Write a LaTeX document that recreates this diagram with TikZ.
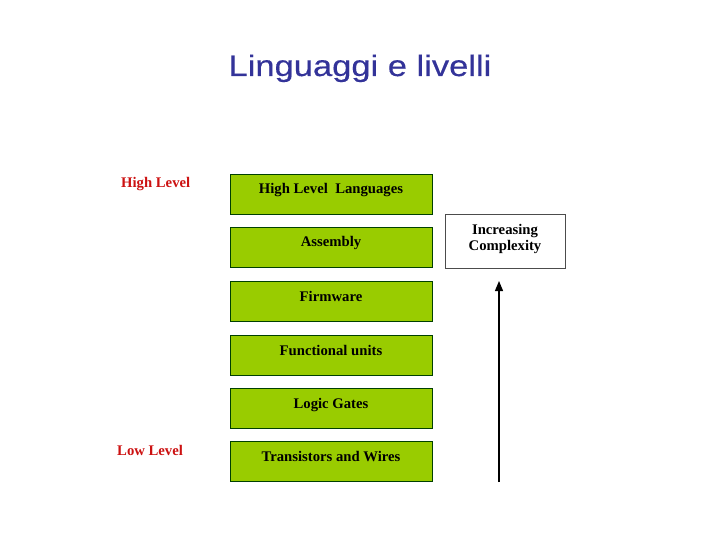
\documentclass[tikz,border=0pt]{standalone}
\usepackage{fontspec}
\setmainfont{Liberation Serif}
\newfontfamily\titlefont[FakeStretch=1.17,FakeBold=0.4]{Liberation Sans}
\usetikzlibrary{arrows.meta}
\definecolor{levelgreen}{HTML}{99CC00}
\definecolor{titleblue}{HTML}{333399}
\definecolor{levelred}{HTML}{CC1111}
\begin{document}
\begin{tikzpicture}[x=1pt,y=-1pt,
  levelbox/.style={draw=black!75!green, line width=1pt, fill=levelgreen, minimum width=202pt, minimum height=40pt, inner sep=0pt, anchor=north west},
  boxtext/.style={font=\bfseries\fontsize{14.7}{16}\selectfont, anchor=base},
  sidelabel/.style={font=\bfseries\fontsize{14.7}{16}\selectfont, text=levelred, anchor=base west, inner sep=0pt}]
\useasboundingbox (0,0) rectangle (720,540);
\node[font=\titlefont\fontsize{29.5}{32}\selectfont, text=titleblue, anchor=base] (title) at (360,76) {Linguaggi e livelli};
\foreach \n/\y/\t in {b1/174/{High Level\ \ Languages}, b2/227/Assembly, b3/281/Firmware, b4/335/Functional units, b5/388/Logic Gates, b6/441/Transistors and Wires}{
  \node[levelbox] (\n) at (230,\y) {};
  \node[boxtext] (\n t) at (331,\y+20) {\t};
}
\node[draw=black!70, line width=0.8pt, fill=white, minimum width=120pt, minimum height=54pt, anchor=north west, inner sep=0pt] (cx) at (445,214) {};
\node[boxtext] (cx1) at (505,234) {Increasing};
\node[boxtext] (cx2) at (505,251) {Complexity};
\coordinate (abot) at (499,482);
\coordinate (atop) at (499,281);
\draw[line width=1.2pt, -{Triangle[length=10pt,width=8pt]}] (abot) -- (atop);
\node[sidelabel] (hl) at (121,188) {High Level};
\node[sidelabel] (ll) at (117,455) {Low Level};
\end{tikzpicture}
\end{document}
